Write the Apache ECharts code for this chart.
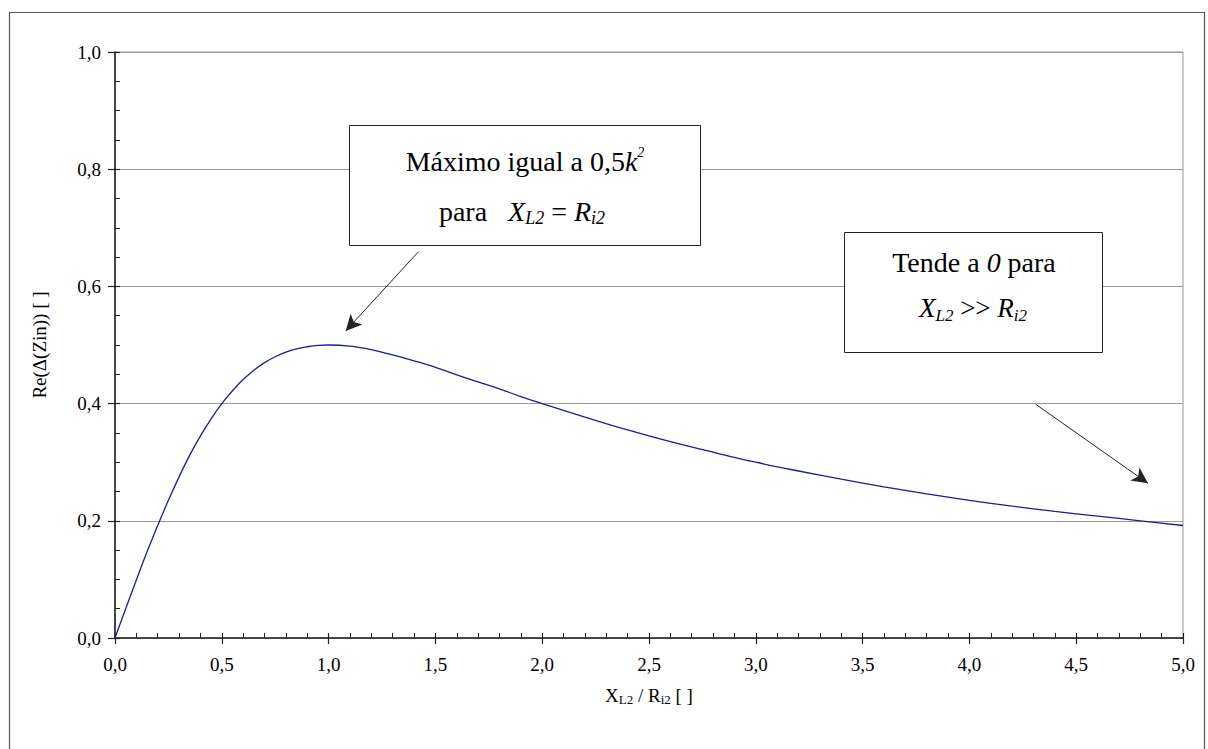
<!DOCTYPE html>
<html>
<head>
<meta charset="utf-8">
<style>
  html, body { margin: 0; padding: 0; background: #ffffff; }
  #chart { width: 1208px; height: 749px; }
</style>
<script src="https://cdn.jsdelivr.net/npm/echarts@6/dist/echarts.min.js"></script>
</head>
<body>
<div id="chart"></div>
<script>
// ---- data ----
const xValues = [0, 0.05, 0.1, 0.15, 0.2, 0.25, 0.3, 0.35, 0.4, 0.45, 0.5, 0.55, 0.6, 0.65, 0.7, 0.75, 0.8, 0.85, 0.9, 0.95, 1.0,
                 1.1, 1.2, 1.3, 1.4, 1.5, 1.6, 1.7, 1.8, 1.9, 2.0,
                 2.2, 2.4, 2.6, 2.8, 3.0, 3.2, 3.4, 3.6, 3.8, 4.0, 4.2, 4.4, 4.6, 4.8, 5.0];
const yValues = [0, 0.050, 0.099, 0.147, 0.192, 0.235, 0.275, 0.312, 0.345, 0.374, 0.400, 0.422, 0.441, 0.457, 0.470, 0.480, 0.488, 0.4935, 0.497, 0.4993, 0.500,
                 0.498, 0.492, 0.483, 0.473, 0.462, 0.449, 0.437, 0.425, 0.412, 0.400,
                 0.377, 0.355, 0.335, 0.317, 0.300, 0.285, 0.271, 0.258, 0.246, 0.235, 0.225, 0.216, 0.208, 0.200, 0.192];
// annotation arrows (data coordinates: start -> end)
const arrowMax = [[1.42, 0.659], [1.08, 0.524]];
const arrowZero = [[4.31, 0.399], [4.836, 0.264]];

const xTitle = '{n|X}{s|L2}{n| / R}{s|i2}{n| [ ]}';
const yTitle = 'Re(Δ(Zin)) [ ]';

const FONT = 'Liberation Serif, DejaVu Serif, serif';
const fmt = v => v.toFixed(1).replace('.', ',');

const points = xValues.map((x, i) => [x, yValues[i]]);

const chart = echarts.init(document.getElementById('chart'), null, { renderer: 'svg' });

const axisCommon = {
  type: 'value',
  axisLabel: { show: false },
  splitLine: { show: false },
  axisLine: { show: false }
};

chart.setOption({
  animation: false,
  backgroundColor: '#ffffff',
  grid: { left: 115, right: 25, top: 52, bottom: 111, show: true, borderColor: '#999999', borderWidth: 1, backgroundColor: 'transparent' },
  xAxis: [
    {
      type: 'value', min: 0, max: 5, interval: 0.5,
      name: xTitle, nameLocation: 'middle', nameGap: 46,
      nameTextStyle: {
        rich: {
          n: { fontFamily: FONT, fontSize: 19, color: '#000', lineHeight: 22 },
          s: { fontFamily: FONT, fontSize: 13, color: '#000', verticalAlign: 'bottom', lineHeight: 13 }
        }
      },
      axisLine: { show: true, onZero: false, lineStyle: { color: '#222', width: 1.6 } },
      axisTick: { show: true, inside: true, length: 5, lineStyle: { color: '#222', width: 1.2 } },
      minorTick: { show: true, splitNumber: 5, length: 5, lineStyle: { color: '#222', width: 1 } },
      axisLabel: { show: true, margin: 17, formatter: fmt, fontFamily: FONT, fontSize: 19, color: '#000' },
      splitLine: { show: false }
    },
    Object.assign({}, axisCommon, {
      min: 0, max: 5, interval: 0.5, position: 'bottom',
      axisTick: { show: true, inside: false, length: 6, lineStyle: { color: '#222', width: 1.2 } }
    })
  ],
  yAxis: [
    {
      type: 'value', min: 0, max: 1, interval: 0.2,
      name: yTitle, nameLocation: 'middle', nameGap: 66,
      nameTextStyle: { fontFamily: FONT, fontSize: 19, color: '#000' },
      axisLine: { show: true, onZero: false, lineStyle: { color: '#222', width: 1.6 } },
      axisTick: { show: true, inside: true, length: 5, lineStyle: { color: '#222', width: 1.2 } },
      minorTick: { show: true, splitNumber: 4, length: 5, lineStyle: { color: '#222', width: 1 } },
      axisLabel: { show: true, margin: 14, formatter: fmt, fontFamily: FONT, fontSize: 19, color: '#000' },
      splitLine: { show: true, lineStyle: { color: '#999999', width: 1 } }
    },
    Object.assign({}, axisCommon, {
      min: 0, max: 1, interval: 0.2, position: 'left',
      axisTick: { show: true, inside: false, length: 7, lineStyle: { color: '#222', width: 1.2 } }
    })
  ],
  series: [{
    type: 'line',
    xAxisIndex: 0, yAxisIndex: 0,
    data: points,
    smooth: 0.4,
    showSymbol: false,
    lineStyle: { color: '#1c1c9a', width: 1.3 },
    markLine: {
      silent: true,
      symbol: ['none', 'arrow'],
      symbolSize: [12, 16],
      label: { show: false },
      lineStyle: { color: '#222', width: 1, type: 'solid' },
      data: [
        [{ coord: arrowMax[0] }, { coord: arrowMax[1] }],
        [{ coord: arrowZero[0] }, { coord: arrowZero[1] }]
      ]
    }
  }],
  graphic: [
    { type: 'rect', shape: { x: 9.5, y: 12.5, width: 1195, height: 760 }, style: { fill: 'none', stroke: '#555', lineWidth: 1.2 }, z: -1 },
    { type: 'rect', shape: { x: 349.5, y: 125.5, width: 351, height: 120 }, style: { fill: '#fff', stroke: '#222', lineWidth: 1 }, z: 10 },
    {
      type: 'text', x: 525, y: 161, z: 11,
      style: {
        text: '{n|Máximo igual a 0,5}{i|k}{p|2}',
        align: 'center', verticalAlign: 'middle',
        rich: {
          n: { fontFamily: FONT, fontSize: 28, fill: '#000', lineHeight: 32 },
          i: { fontFamily: FONT, fontSize: 28, fontStyle: 'italic', fill: '#000', lineHeight: 32 },
          p: { fontFamily: FONT, fontSize: 14, fontStyle: 'italic', fill: '#000', verticalAlign: 'top', lineHeight: 16 }
        }
      }
    },
    {
      type: 'text', x: 522, y: 211, z: 11,
      style: {
        text: '{n|para   }{i|X}{s|L2}{n| = }{i|R}{s|i2}',
        align: 'center', verticalAlign: 'middle',
        rich: {
          n: { fontFamily: FONT, fontSize: 28, fill: '#000', lineHeight: 32 },
          i: { fontFamily: FONT, fontSize: 28, fontStyle: 'italic', fill: '#000', lineHeight: 32 },
          s: { fontFamily: FONT, fontSize: 18, fontStyle: 'italic', fill: '#000', verticalAlign: 'bottom', lineHeight: 17 }
        }
      }
    },
    { type: 'rect', shape: { x: 844.5, y: 232.5, width: 258, height: 120 }, style: { fill: '#fff', stroke: '#222', lineWidth: 1 }, z: 10 },
    {
      type: 'text', x: 974, y: 262, z: 11,
      style: {
        text: '{n|Tende a }{i|0}{n| para}',
        align: 'center', verticalAlign: 'middle',
        rich: {
          n: { fontFamily: FONT, fontSize: 28, fill: '#000', lineHeight: 32 },
          i: { fontFamily: FONT, fontSize: 28, fontStyle: 'italic', fill: '#000', lineHeight: 32 }
        }
      }
    },
    {
      type: 'text', x: 973, y: 308, z: 11,
      style: {
        text: '{i|X}{s|L2}{n| >> }{i|R}{s|i2}',
        align: 'center', verticalAlign: 'middle',
        rich: {
          n: { fontFamily: FONT, fontSize: 27, fill: '#000', lineHeight: 32 },
          i: { fontFamily: FONT, fontSize: 27, fontStyle: 'italic', fill: '#000', lineHeight: 32 },
          s: { fontFamily: FONT, fontSize: 17, fontStyle: 'italic', fill: '#000', verticalAlign: 'bottom', lineHeight: 16 }
        }
      }
    }
  ]
});
</script>
</body>
</html>
